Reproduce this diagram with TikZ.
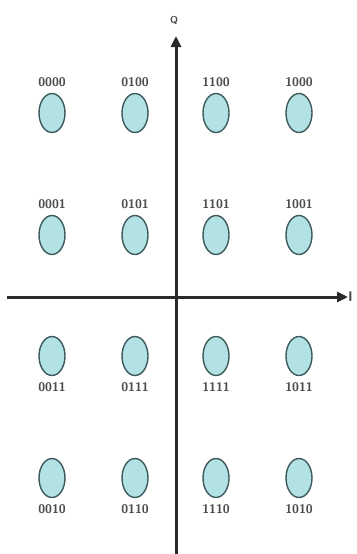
\documentclass[tikz,border=0pt]{standalone}
\usetikzlibrary{arrows.meta,shapes.geometric}
\definecolor{symfill}{HTML}{B2E2E4}
\definecolor{symline}{HTML}{3E5A5C}
\definecolor{axisgray}{HTML}{2A2A2A}
\begin{document}
\begin{tikzpicture}[
    x=1pt,
    y=-1pt,
    symbol/.style={
        ellipse,
        draw=symline,
        line width=1.4pt,
        fill=symfill,
        minimum width=26pt,
        minimum height=39pt,
        inner sep=0pt,
    },
    bits/.style={
        font=\sffamily\bfseries\fontsize{12.5}{12.5}\selectfont,
        text=black!70,
        inner sep=1pt,
    },
    label distance=5pt,
    axis/.style={draw=axisgray, line width=3pt},
    ]
    \useasboundingbox (0,0) rectangle (356,554);
    % constellation points, Gray coded
    \node[symbol, label={[bits]above:0000}] (s0000) at (52,113) {};
    \node[symbol, label={[bits]above:0100}] (s0100) at (135,113) {};
    \node[symbol, label={[bits]above:1100}] (s1100) at (216,113) {};
    \node[symbol, label={[bits]above:1000}] (s1000) at (299,113) {};
    \node[symbol, label={[bits]above:0001}] (s0001) at (52,235) {};
    \node[symbol, label={[bits]above:0101}] (s0101) at (135,235) {};
    \node[symbol, label={[bits]above:1101}] (s1101) at (216,235) {};
    \node[symbol, label={[bits]above:1001}] (s1001) at (299,235) {};
    \node[symbol, label={[bits]below:0011}] (s0011) at (52,356) {};
    \node[symbol, label={[bits]below:0111}] (s0111) at (135,356) {};
    \node[symbol, label={[bits]below:1111}] (s1111) at (216,356) {};
    \node[symbol, label={[bits]below:1011}] (s1011) at (299,356) {};
    \node[symbol, label={[bits]below:0010}] (s0010) at (52,478) {};
    \node[symbol, label={[bits]below:0110}] (s0110) at (135,478) {};
    \node[symbol, label={[bits]below:1110}] (s1110) at (216,478) {};
    \node[symbol, label={[bits]below:1010}] (s1010) at (299,478) {};
    % axes
    \coordinate (qbot) at (176,554);
    \coordinate (qtop) at (176,36);
    \coordinate (ileft) at (7,297);
    \coordinate (iright) at (348,297);
    \draw[axis, -{Triangle[length=11pt,width=10pt]}] (qbot) -- (qtop);
    \draw[axis, -{Triangle[length=11pt,width=10pt]}] (ileft) -- (iright);
    \node[bits, font=\sffamily\bfseries\fontsize{10}{10}\selectfont] (qlabel) at (174,20) {Q};
    \node[bits, font=\sffamily\bfseries\fontsize{14}{14}\selectfont, anchor=west, inner sep=0pt] (ilabel) at (iright) {I};
\end{tikzpicture}
\end{document}
